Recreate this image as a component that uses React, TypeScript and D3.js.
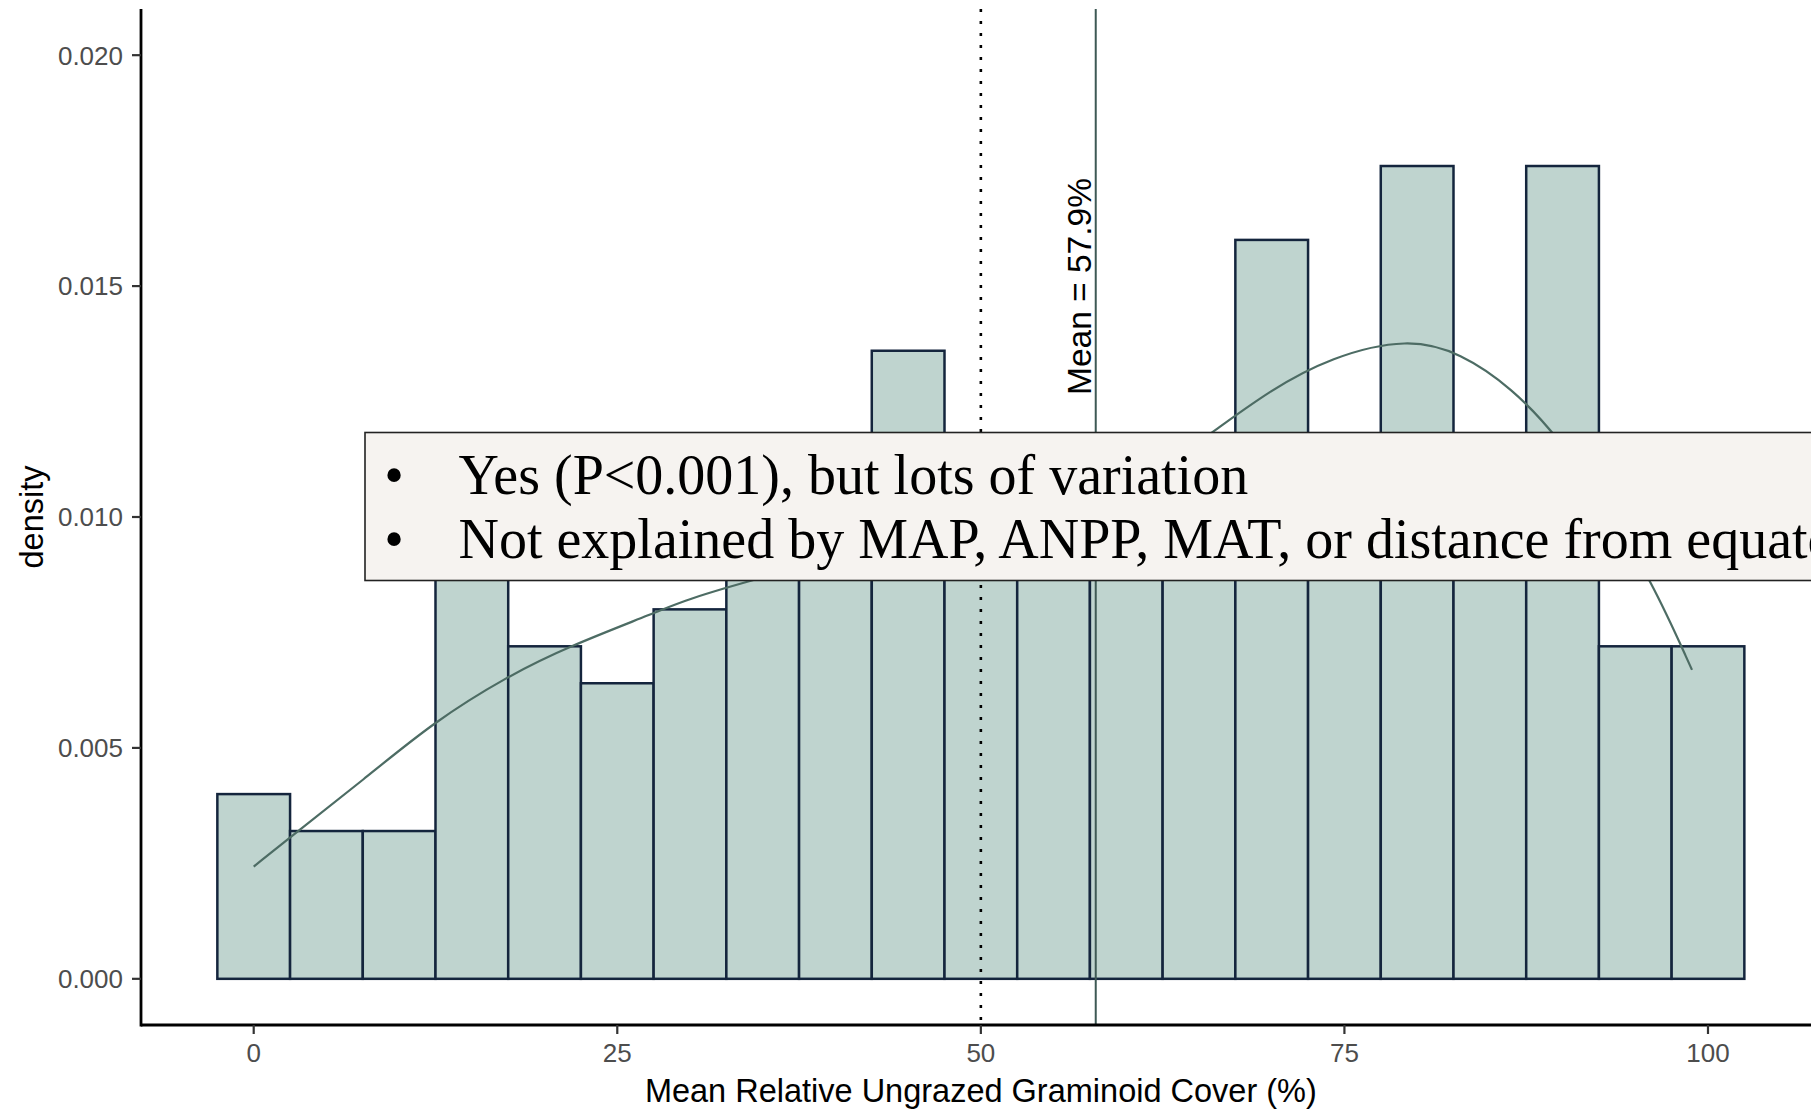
import React from "react";
import * as d3 from "d3";

// Histogram bins (width 5, centred on these values) and their densities
const binCenters = [0, 5, 10, 15, 20, 25, 30, 35, 40, 45, 50, 55, 60, 65, 70, 75, 80, 85, 90, 95, 100];
const binDensity = [
  0.004, 0.0032, 0.0032, 0.0088, 0.0072, 0.0064, 0.008, 0.0088, 0.0104, 0.0136, 0.0096,
  0.0088, 0.0104, 0.0096, 0.016, 0.0112, 0.0176, 0.0112, 0.0176, 0.0072, 0.0072,
];
const binWidth = 5;

// Smoothed density trend
const trendX = [0, 2.9, 7.5, 12.4, 17.5, 21.6, 27.8, 29.6, 35, 40, 45, 50, 55, 60, 63, 65.8, 69.8, 74.1, 79.4, 83, 86.5, 89.8, 93, 96.1, 98.9];
const trendY = [
  0.00243, 0.00316, 0.0043, 0.00557, 0.00656, 0.00719, 0.00795, 0.0082, 0.0087, 0.0091, 0.0095,
  0.0099, 0.0103, 0.0108, 0.0112, 0.0118, 0.01273, 0.01347, 0.01388, 0.01355, 0.0128,
  0.0117, 0.0102, 0.00864, 0.00669,
];

const meanValue = 57.9;
const referenceValue = 50;

const xTicks = [0, 25, 50, 75, 100];
const yTicks = [0, 0.005, 0.01, 0.015, 0.02];

const notes = [
  "Yes (P<0.001), but lots of variation",
  "Not explained by MAP, ANPP, MAT, or distance from equator",
];

const W = 1811;
const H = 1110;
const panel = { left: 141, top: 9, bottom: 1025, right: 1820.7 };

export default function App() {
  const x = d3.scaleLinear().domain([-7.75, 107.75]).range([panel.left, panel.right]);
  const y = d3.scaleLinear().domain([-0.001, 0.021]).range([panel.bottom, panel.top]);

  const trendPath =
    d3
      .line<number>()
      .x((_, i) => x(trendX[i]))
      .y((_, i) => y(trendY[i]))
      .curve(d3.curveBasis)(trendX) || "";

  const sans = "'Liberation Sans', Arial, sans-serif";
  const serif = "'Liberation Serif', 'Times New Roman', serif";

  return (
    <svg
      width={W}
      height={H}
      viewBox={`0 0 ${W} ${H}`}
      style={{ position: "absolute", left: 0, top: 0, display: "block", background: "#fff" }}
    >
      <rect x={0} y={0} width={W} height={H} fill="#fff" />

      {/* histogram bars */}
      <g>
        {binCenters.map((c, i) => (
          <rect
            key={c}
            x={x(c - binWidth / 2)}
            y={y(binDensity[i])}
            width={x(c + binWidth / 2) - x(c - binWidth / 2)}
            height={y(0) - y(binDensity[i])}
            fill="#bfd4cf"
            stroke="#14253d"
            strokeWidth={2.5}
          />
        ))}
      </g>

      {/* density trend */}
      <path d={trendPath} fill="none" stroke="#4d6c64" strokeWidth={2.2} />

      {/* reference and mean lines */}
      <line
        x1={x(referenceValue)}
        x2={x(referenceValue)}
        y1={panel.top}
        y2={panel.bottom}
        stroke="#000"
        strokeWidth={2.6}
        strokeDasharray="3 9"
      />
      <line
        x1={x(meanValue)}
        x2={x(meanValue)}
        y1={panel.top}
        y2={panel.bottom}
        stroke="#3e5955"
        strokeWidth={2}
      />
      <text
        transform={`translate(${x(meanValue) - 5},395) rotate(-90)`}
        fontFamily={sans}
        fontSize={33.5}
        fill="#000"
      >
        {`Mean = ${meanValue}%`}
      </text>

      {/* axes */}
      <line x1={panel.left} x2={W} y1={panel.bottom} y2={panel.bottom} stroke="#000" strokeWidth={2.8} />
      <line x1={panel.left} x2={panel.left} y1={panel.top} y2={panel.bottom + 1.4} stroke="#000" strokeWidth={2.8} />

      {xTicks.map((t) => (
        <g key={t}>
          <line x1={x(t)} x2={x(t)} y1={panel.bottom} y2={panel.bottom + 9} stroke="#333" strokeWidth={2.2} />
          <text x={x(t)} y={1062} textAnchor="middle" fontFamily={sans} fontSize={26} fill="#4d4d4d">
            {t}
          </text>
        </g>
      ))}
      {yTicks.map((t) => (
        <g key={t}>
          <line x1={panel.left - 9} x2={panel.left} y1={y(t)} y2={y(t)} stroke="#333" strokeWidth={2.2} />
          <text
            x={123}
            y={y(t)}
            dy="0.36em"
            textAnchor="end"
            fontFamily={sans}
            fontSize={26}
            fill="#4d4d4d"
          >
            {d3.format(".3f")(t)}
          </text>
        </g>
      ))}

      <text
        x={(panel.left + panel.right) / 2}
        y={1102}
        textAnchor="middle"
        fontFamily={sans}
        fontSize={32.5}
        fill="#000"
      >
        Mean Relative Ungrazed Graminoid Cover (%)
      </text>
      <text
        transform={`translate(43,${(panel.top + panel.bottom) / 2}) rotate(-90)`}
        textAnchor="middle"
        fontFamily={sans}
        fontSize={32.5}
        fill="#000"
      >
        density
      </text>

      {/* notes box */}
      <rect x={365} y={432.5} width={1600} height={148} fill="#f6f3f0" stroke="#222" strokeWidth={1.6} />
      {notes.map((n, i) => (
        <g key={i}>
          <text x={394} y={494 + i * 64} textAnchor="middle" fontFamily={serif} fontSize={56} fill="#000">
            •
          </text>
          <text x={458.5} y={494 + i * 64} fontFamily={serif} fontSize={56} fill="#000">
            {n}
          </text>
        </g>
      ))}
    </svg>
  );
}
